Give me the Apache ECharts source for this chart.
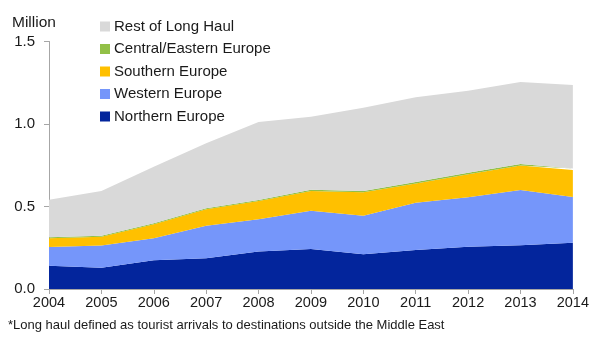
<!DOCTYPE html>
<html>
<head>
<meta charset="utf-8">
<script src="https://cdn.jsdelivr.net/npm/echarts@6/dist/echarts.min.js"></script>
<style>
  html, body { margin: 0; padding: 0; background: #fff; }
  #chart { width: 592px; height: 340px; }
</style>
</head>
<body>
<div id="chart"></div>
<script>
// Long-haul tourist arrivals by source region, million
const years = ['2004','2005','2006','2007','2008','2009','2010','2011','2012','2013','2014'];
const northernEurope = [0.141, 0.129, 0.174, 0.186, 0.228, 0.242, 0.210, 0.236, 0.256, 0.265, 0.281];
const westernEurope  = [0.114, 0.134, 0.133, 0.198, 0.194, 0.233, 0.234, 0.287, 0.300, 0.335, 0.277];
const southernEurope = [0.052, 0.054, 0.085, 0.099, 0.111, 0.119, 0.142, 0.117, 0.139, 0.149, 0.163];
const centralEasternEurope = [0.006, 0.006, 0.006, 0.007, 0.007, 0.008, 0.008, 0.008, 0.009, 0.009, 0.010];
const restOfLongHaul = [0.228, 0.271, 0.343, 0.393, 0.472, 0.442, 0.505, 0.514, 0.498, 0.497, 0.505];
const yTicks = [0, 0.5, 1.0, 1.5];

const FONT = '"Liberation Sans", Arial, sans-serif';

const seriesDefs = [
  { name: 'Northern Europe', data: northernEurope, color: '#03259c' },
  { name: 'Western Europe', data: westernEurope, color: '#7596fa' },
  { name: 'Southern Europe', data: southernEurope, color: '#ffc000' },
  { name: 'Central/Eastern Europe', data: centralEasternEurope, color: '#92c047' },
  { name: 'Rest of Long Haul', data: restOfLongHaul, color: '#d9d9d9' }
];

const chart = echarts.init(document.getElementById('chart'));
chart.setOption({
  animation: false,
  backgroundColor: '#ffffff',
  grid: { left: 49, right: 19, top: 41.5, bottom: 51, containLabel: false },
  legend: {
    orient: 'vertical',
    left: 100,
    top: 19,
    itemWidth: 10,
    itemHeight: 10,
    itemGap: 7.5,
    icon: 'rect',
    padding: 0,
    textStyle: { fontFamily: FONT, fontSize: 15, color: '#1a1a1a', padding: [0, 0, 0, -1] },
    data: seriesDefs.slice().reverse().map(s => s.name)
  },
  graphic: [
    { type: 'text', left: 12, top: 15, style: { text: 'Million', font: '15.5px ' + FONT, fill: '#1a1a1a' } },
    { type: 'text', left: 8, top: 319, style: { text: '*Long haul defined as tourist arrivals to destinations outside the Middle East', font: '13px ' + FONT, fill: '#1a1a1a' } }
  ],
  xAxis: {
    type: 'category',
    data: years,
    boundaryGap: false,
    axisLine: { lineStyle: { color: '#a6a6a6', width: 1 } },
    axisTick: { show: true, length: 5, lineStyle: { color: '#a6a6a6' } },
    axisLabel: { fontFamily: FONT, fontSize: 14.5, color: '#1a1a1a', margin: 6 },
    splitLine: { show: false }
  },
  yAxis: {
    type: 'value',
    min: yTicks[0],
    max: yTicks[yTicks.length - 1],
    interval: 0.5,
    axisLine: { show: true, lineStyle: { color: '#a6a6a6', width: 1 } },
    axisTick: { show: true, length: 5, lineStyle: { color: '#a6a6a6' } },
    axisLabel: { fontFamily: FONT, fontSize: 15, color: '#1a1a1a', margin: 14, formatter: v => v.toFixed(1) },
    splitLine: { show: false }
  },
  series: seriesDefs.map(s => ({
    name: s.name,
    type: 'line',
    stack: 'total',
    data: s.data,
    symbol: 'none',
    showSymbol: false,
    lineStyle: { width: 0, color: s.color },
    itemStyle: { color: s.color },
    areaStyle: { color: s.color, opacity: 1 },
    emphasis: { disabled: true }
  }))
});
</script>
</body>
</html>
